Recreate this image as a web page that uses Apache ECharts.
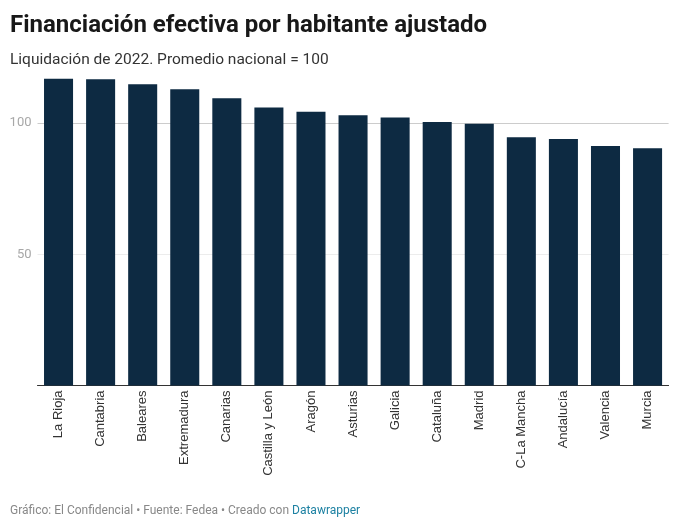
<!DOCTYPE html>
<html>
<head>
<meta charset="utf-8">
<script src="https://cdn.jsdelivr.net/npm/echarts@6/dist/echarts.min.js"></script>
<style>html,body{margin:0;padding:0;background:#fff;}#c{width:680px;height:529px;}</style>
</head>
<body>
<div id="c"></div>
<script>
const categories = ['La Rioja','Cantabria','Baleares','Extremadura','Canarias','Castilla y León','Aragón','Asturias','Galicia','Cataluña','Madrid','C-La Mancha','Andalucía','Valencia','Murcia'];
const values = [116.9, 116.7, 114.8, 112.9, 109.5, 105.9, 104.3, 103.0, 102.1, 100.4, 99.7, 94.6, 93.9, 91.3, 90.4];
const yTickLabels = [50, 100];

const chart = echarts.init(document.getElementById('c'), null, {renderer: 'canvas'});
chart.setOption({
  animation: false,
  backgroundColor: '#ffffff',
  title: [
    {text: 'Financiación efectiva por habitante ajustado', left: 10, top: 14, padding: 0,
     textStyle: {fontFamily: 'Roboto', fontWeight: 'bold', fontSize: 24, lineHeight: 24, color: '#181818'}},
    {text: 'Liquidación de 2022. Promedio nacional = 100', left: 10, top: 52, padding: 0,
     textStyle: {fontFamily: 'Roboto', fontWeight: 'normal', fontSize: 15.5, lineHeight: 16, color: '#333333'}},
    {text: '{g|Gráfico: El Confidencial • Fuente: Fedea • Creado con }{b|Datawrapper}', left: 10, top: 505, padding: 0,
     textStyle: {fontWeight: 'normal', rich: {
       g: {fontFamily: 'Roboto', fontWeight: 'normal', fontSize: 12, color: '#888888', lineHeight: 12},
       b: {fontFamily: 'Roboto', fontWeight: 'normal', fontSize: 12, color: '#1d81a2', lineHeight: 12}
     }}}
  ],
  grid: {left: 37.5, right: 11.4, top: 70.6, bottom: 143.5, containLabel: false},
  xAxis: {
    type: 'category',
    data: categories,
    axisTick: {show: false},
    axisLine: {show: true, lineStyle: {color: '#333333', width: 1}},
    axisLabel: {rotate: 90, interval: 0, margin: 5, fontFamily: 'Liberation Sans, Arial', fontSize: 13, color: '#333333'}
  },
  yAxis: {
    type: 'value',
    min: 0, max: 120, interval: 50,
    axisLine: {show: false},
    axisTick: {show: false},
    axisLabel: {
      showMaxLabel: false,
      margin: 6,
      fontFamily: 'Roboto', fontSize: 13, color: '#a8a8a8',
      formatter: function (v) { return yTickLabels.indexOf(v) >= 0 ? String(v) : ''; }
    },
    splitLine: {show: true, lineStyle: {color: ['rgba(0,0,0,0)', '#ececec', '#cccccc', 'rgba(0,0,0,0)'], width: 1}}
  },
  series: [{
    type: 'bar',
    data: values,
    barCategoryGap: '31%',
    itemStyle: {color: '#0d2a42'}
  }]
});
</script>
</body>
</html>
